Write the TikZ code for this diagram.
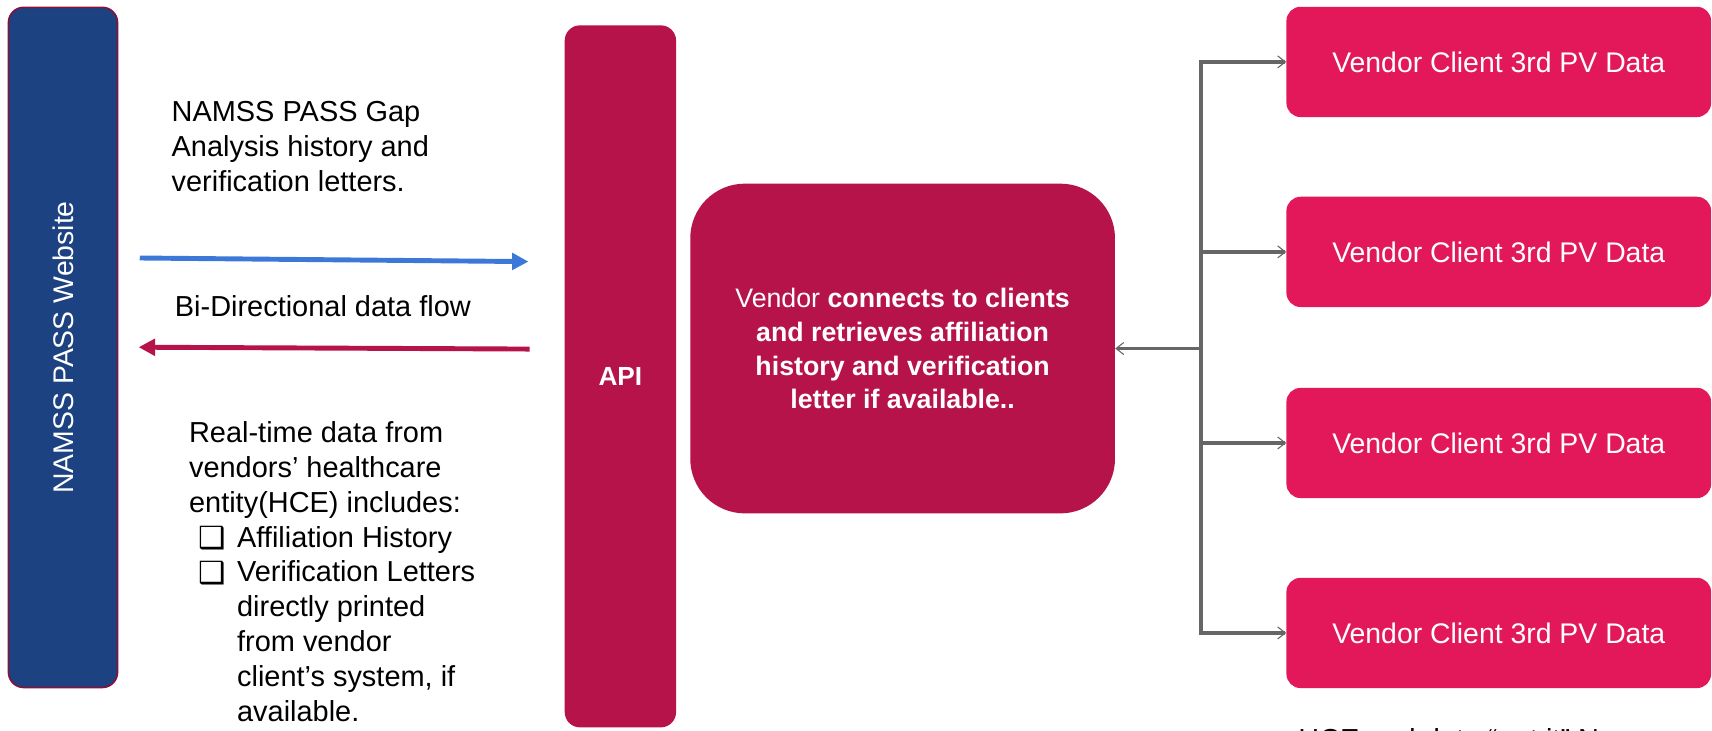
\documentclass[tikz,border=0pt]{standalone}
\usepackage{fontspec}
\setmainfont{Liberation Sans}
\newfontfamily\symfont{DejaVu Sans}
\usetikzlibrary{arrows.meta,calc}
\definecolor{navy}{HTML}{1C4281}
\definecolor{crim}{HTML}{B5134A}
\definecolor{pinkv}{HTML}{E2185B}
\definecolor{arrblue}{HTML}{3C78D8}
\definecolor{conn}{HTML}{666666}
\definecolor{edgec}{HTML}{8A1036}
\begin{document}
\begin{tikzpicture}[x=1pt,y=-1pt,
  txt/.style={font=\fontsize{26.5}{32}\selectfont, inner sep=0pt, anchor=base west},
  box/.style={inner sep=0pt, anchor=north west},
  vbox/.style={box, fill=pinkv, rounded corners=13pt, minimum width=389pt, minimum height=101pt,
     text=white, font=\fontsize{26}{30}\selectfont},
  flow/.style={line width=4.5pt, -{Triangle[length=15pt,width=15pt]}},
  garrow/.style={conn, line width=3.2pt, -{Straight Barb[length=7pt,width=11pt,line width=1pt]}},
  cb/.style={inner sep=0pt, anchor=base west, font=\symfont\fontsize{28}{28}\selectfont}
]
\useasboundingbox (0,0) rectangle (1568,668.6);

% left website box
\node[box, fill=navy, draw=edgec, line width=1.4pt, rounded corners=14pt,
      minimum width=100pt, minimum height=623pt] (web) at (7,6) {};
\node[rotate=90, text=white, font=\fontsize{26}{30}\selectfont, inner sep=0pt] (webtxt) at (web.center) {NAMSS PASS Website};

% API box
\node[box, fill=crim, rounded corners=14pt, minimum width=102pt, minimum height=643pt] (api) at (517,23) {};
\node[text=white, font=\bfseries\fontsize{24}{28}\selectfont, inner sep=0pt] (apitxt) at (api.center) {API};

% center box
\node[box, fill=crim, rounded corners=50pt, minimum width=389pt, minimum height=302pt] (cbox) at (632,168) {};
\node[text=white, align=center, font=\fontsize{24.5}{31}\selectfont, inner sep=0pt] (ctxt) at (cbox.center)
  {Vendor \textbf{connects to clients}\\ \textbf{and retrieves affiliation}\\ \textbf{history and verification}\\ \textbf{letter if available..}};

% right vendor boxes
\node[vbox] (v1) at (1178,6) {Vendor Client 3rd PV Data};
\node[vbox] (v2) at (1178,180) {Vendor Client 3rd PV Data};
\node[vbox] (v3) at (1178,355) {Vendor Client 3rd PV Data};
\node[vbox] (v4) at (1178,529) {Vendor Client 3rd PV Data};

% connectors on the right
\coordinate (bus) at (1100,319);
\draw[conn, line width=3.2pt, line cap=rect] (v1.west -| bus) -- (v4.west -| bus);
\draw[garrow] (v1.west -| bus) -- (v1.west);
\draw[garrow] (v2.west -| bus) -- (v2.west);
\draw[garrow] (v3.west -| bus) -- (v3.west);
\draw[garrow] (v4.west -| bus) -- (v4.west);
\draw[garrow] (cbox.east -| bus) -- (cbox.east);

% flow arrows
\coordinate (b1) at (128,236.3);
\coordinate (b2) at (484,239.6);
\coordinate (r1) at (485,319.7);
\coordinate (r2) at (127,318);
\draw[flow, arrblue] (b1) -- (b2);
\draw[flow, crim] (r1) -- (r2);

% texts
\foreach \t [count=\i] in {NAMSS PASS Gap, Analysis history and, verification letters.}
  \node[txt] (g\i) at (157,{111+32*(\i-1)}) {\t};
\node[txt] (bidir) at (160,290) {Bi-Directional data flow};
\foreach \t [count=\i] in {Real-time data from, vendors’ healthcare, entity(HCE) includes:}
  \node[txt] (r\i) at (173,{405+32*(\i-1)}) {\t};
\foreach \t [count=\i] in {Affiliation History, Verification Letters, directly printed, from vendor, {client’s system, if}, available.}
  \node[txt] (l\i) at (217,{501+32*(\i-1)}) {\t};
\node[cb] (cb1) at (182,502) {❑};
\node[cb] (cb2) at (182,534) {❑};

% clipped caption at the bottom
\node[txt] (hce) at (1189,686) {HCE and data “get it” No};
\end{tikzpicture}
\end{document}
